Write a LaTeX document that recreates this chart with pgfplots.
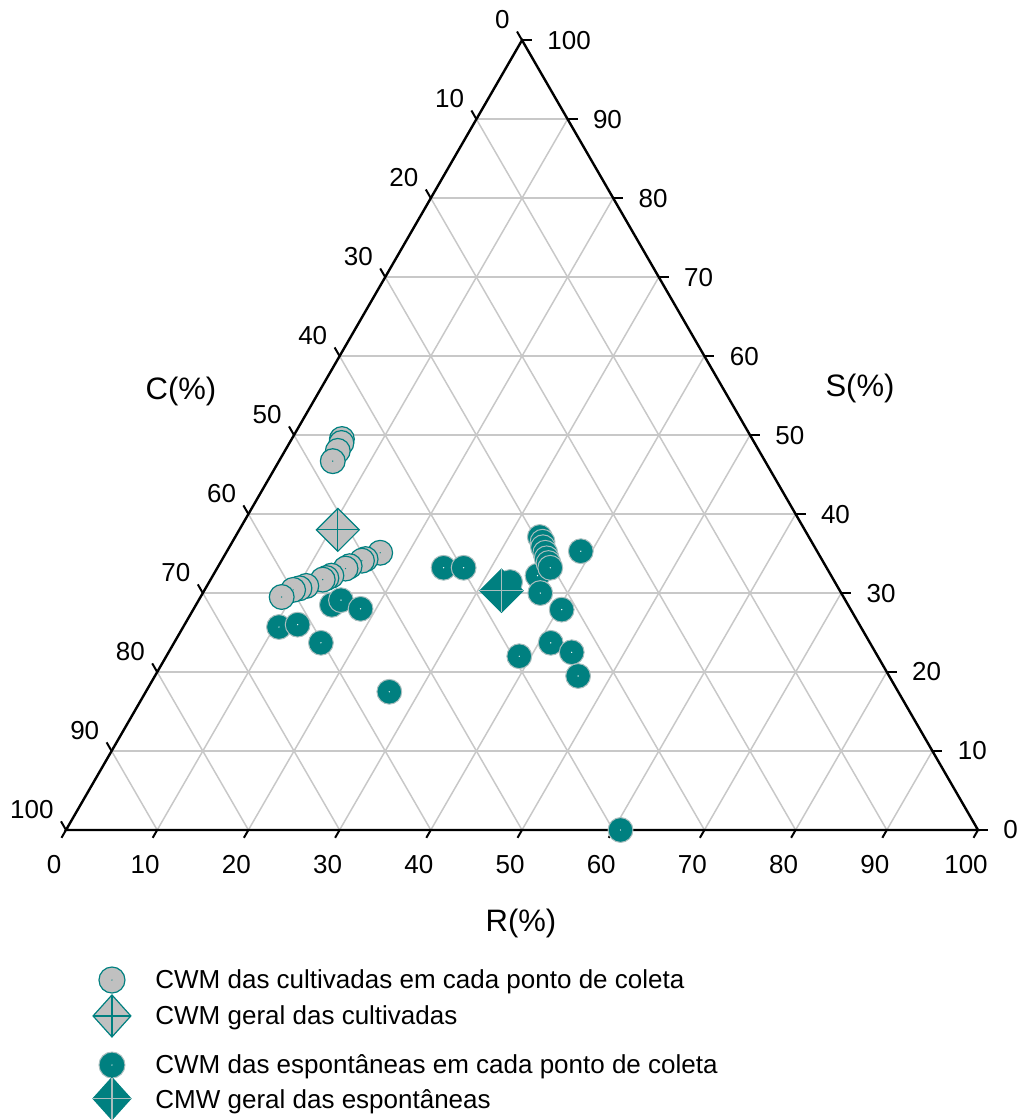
\documentclass[border=0pt]{standalone}
\usepackage{pgfplots}
\pgfplotsset{compat=1.18}
\usepackage{fontspec}
\setmainfont{Liberation Sans}
\definecolor{tealc}{RGB}{0,128,128}
\definecolor{grayc}{RGB}{192,192,192}
\definecolor{gridc}{RGB}{200,200,200}
\definecolor{edgec}{RGB}{170,190,190}
\pgfdeclareplotmark{gcirc}{%
  \pgfpathcircle{\pgfpointorigin}{\pgfplotmarksize}\pgfusepathqfillstroke
  \pgfscope\pgfsetfillcolor{tealc}\pgfpathcircle{\pgfpointorigin}{0.35pt}\pgfusepathqfill\endpgfscope}
\pgfdeclareplotmark{tcirc}{%
  \pgfpathcircle{\pgfpointorigin}{\pgfplotmarksize}\pgfusepathqfillstroke
  \pgfscope\pgfsetfillcolor{white}\pgfpathcircle{\pgfpointorigin}{0.35pt}\pgfusepathqfill\endpgfscope}
\begin{document}
\fontsize{13}{15.6}\selectfont
\begin{tikzpicture}
\begin{axis}[
  x=4.56pt, y=4.56pt,
  xmin=-7.237, xmax=104.605, ymin=-31.798, ymax=91.009,
  hide axis, clip=false,
]
\path (rel axis cs:0,0) rectangle (rel axis cs:1,1);
% grid
\pgfplotsinvokeforeach{10,20,30,40,50,60,70,80,90}{
  \draw[gridc, line width=0.75pt] (axis cs:{#1/2},{#1*0.8660254}) -- (axis cs:{100-#1/2},{#1*0.8660254});
  \draw[gridc, line width=0.75pt] (axis cs:#1,0) -- (axis cs:{#1+(100-#1)/2},{(100-#1)*0.8660254});
  \draw[gridc, line width=0.75pt] (axis cs:{100-#1},0) -- (axis cs:{(100-#1)/2},{(100-#1)*0.8660254});
}
\draw[black, line width=1.2pt] (axis cs:0,0) -- (axis cs:100,0) -- (axis cs:50,86.60254) -- cycle;
% ticks and labels
\pgfplotsinvokeforeach{0,10,20,30,40,50,60,70,80,90,100}{
  \draw[black, line width=1pt] (axis cs:#1,0) -- ++(240:4.5pt);
  \draw[black, line width=1pt] (axis cs:{100-#1/2},{#1*0.8660254}) -- ++(0:5pt);
  \draw[black, line width=1pt] (axis cs:{(100-#1)/2},{(100-#1)*0.8660254}) -- ++(120:5pt);
  \node[anchor=center, inner sep=0pt, xshift=-6pt, yshift=-17.5pt] at (axis cs:#1,0) {#1};
  \node[anchor=west, inner sep=0pt, xshift=12.5pt] at (axis cs:{100-#1/2},{#1*0.8660254}) {#1};
  \node[anchor=south east, inner sep=0pt, xshift=-6pt, yshift=5.5pt] at (axis cs:{(100-#1)/2},{(100-#1)*0.8660254}) {#1};
}
\node[font=\fontsize{15.5}{18}\selectfont] at (axis cs:12.61,48.03) {C(\%)};
\node[font=\fontsize{15.5}{18}\selectfont] at (axis cs:87.06,48.46) {S(\%)};
\node[font=\fontsize{15.5}{18}\selectfont] at (axis cs:49.89,-10.20) {R(\%)};
% CWM cultivadas (R S)
\addplot[only marks, mark=gcirc, mark size=6.2pt, mark options={fill=grayc, draw=tealc, line width=0.6pt}]
 table[row sep=\\, x expr=\thisrow{R}+0.5*\thisrow{S}, y expr=0.8660254*\thisrow{S}] {
R S \\
5.5 49.5 \\ 5.7 49.0 \\ 5.8 48.0 \\ 5.9 46.7 \\
16.9 35.1 \\ 15.7 34.3 \\ 15.4 34.1 \\ 14.4 33.4 \\ 14.1 33.1 \\
13.0 32.2 \\ 12.6 31.9 \\ 12.3 31.7 \\ 10.9 30.9 \\ 10.3 30.6 \\ 9.7 30.4 \\ 8.9 29.5 \\
};
% CWM espontaneas (R S)
\addplot[only marks, mark=tcirc, mark size=6.2pt, mark options={fill=tealc, draw=edgec, line width=0.5pt}]
 table[row sep=\\, x expr=\thisrow{R}+0.5*\thisrow{S}, y expr=0.8660254*\thisrow{S}] {
R S \\
10.5 25.7 \\ 12.4 26.0 \\ 16.1 23.7 \\ 14.9 28.5 \\ 15.6 29.1 \\ 18.3 28.0 \\
26.7 17.5 \\ 24.8 33.2 \\ 27.0 33.2 \\ 33.0 31.4 \\ 38.8 35.3 \\ 35.6 32.2 \\
33.4 37.1 \\ 34.0 36.5 \\ 34.4 35.8 \\ 35.0 35.1 \\ 35.5 34.4 \\ 36.0 33.8 \\ 36.5 33.2 \\
37.0 30.0 \\ 40.4 27.9 \\ 41.3 23.7 \\ 44.2 22.5 \\ 46.4 19.5 \\ 38.7 22.0 \\ 60.8 0.0 \\
};
% CWM geral cultivadas
\addplot[only marks, mark=square*, mark size=7.6pt, mark options={rotate=45, fill=grayc, draw=tealc, line width=0.6pt}]
 table[row sep=\\, x expr=\thisrow{R}+0.5*\thisrow{S}, y expr=0.8660254*\thisrow{S}] {R S \\ 10.8 38.0 \\};
\addplot[only marks, mark=+, mark size=10.75pt, mark options={draw=tealc, line width=0.6pt}]
 table[row sep=\\, x expr=\thisrow{R}+0.5*\thisrow{S}, y expr=0.8660254*\thisrow{S}] {R S \\ 10.8 38.0 \\};
% CMW geral espontaneas
\addplot[only marks, mark=square*, mark size=7.6pt, mark options={rotate=45, fill=tealc, draw=tealc, line width=0.6pt}]
 table[row sep=\\, x expr=\thisrow{R}+0.5*\thisrow{S}, y expr=0.8660254*\thisrow{S}] {R S \\ 32.6 30.3 \\};
\addplot[only marks, mark=+, mark size=10.75pt, mark options={draw=edgec, line width=0.6pt}]
 table[row sep=\\, x expr=\thisrow{R}+0.5*\thisrow{S}, y expr=0.8660254*\thisrow{S}] {R S \\ 32.6 30.3 \\};
% legend
\addplot[only marks, mark=gcirc, mark size=6.5pt, mark options={fill=grayc, draw=tealc, line width=0.6pt}] coordinates {(5.04,-16.45)};
\addplot[only marks, mark=diamond*, mark size=10.5pt, mark options={xscale=1.2, fill=grayc, draw=tealc, line width=0.6pt}] coordinates {(5.04,-20.39)};
\addplot[only marks, mark=+, mark size=10.5pt, mark options={xscale=0.9, draw=tealc, line width=0.6pt}] coordinates {(5.04,-20.39)};
\addplot[only marks, mark=tcirc, mark size=6.5pt, mark options={fill=tealc, draw=edgec, line width=0.5pt}] coordinates {(5.04,-25.77)};
\addplot[only marks, mark=diamond*, mark size=10.5pt, mark options={xscale=1.2, fill=tealc, draw=tealc, line width=0.6pt}] coordinates {(5.04,-29.45)};
\addplot[only marks, mark=+, mark size=10.5pt, mark options={xscale=0.9, draw=edgec, line width=0.6pt}] coordinates {(5.04,-29.45)};
\node[anchor=base west, inner sep=0pt] at (axis cs:9.76,-17.43) {CWM das cultivadas em cada ponto de coleta};
\node[anchor=base west, inner sep=0pt] at (axis cs:9.76,-21.38) {CWM geral das cultivadas};
\node[anchor=base west, inner sep=0pt] at (axis cs:9.76,-26.75) {CWM das espontâneas em cada ponto de coleta};
\node[anchor=base west, inner sep=0pt] at (axis cs:9.76,-30.59) {CMW geral das espontâneas};
\end{axis}
\end{tikzpicture}
\end{document}
